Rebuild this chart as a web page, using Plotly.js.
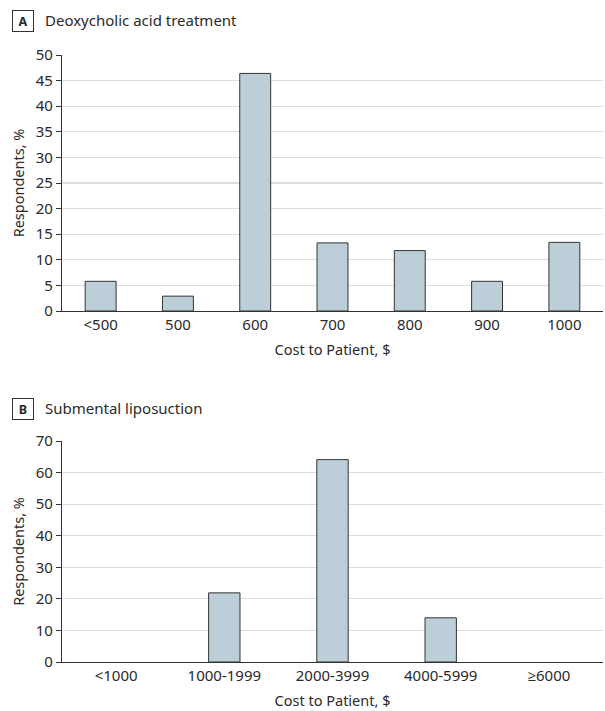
<!DOCTYPE html>
<html>
<head>
<meta charset="utf-8">
<script src="https://cdn.plot.ly/plotly-3.0.1.min.js"></script>
<style>html,body{margin:0;padding:0;background:#fff;}#chart{width:605px;height:711px;}</style>
</head>
<body>
<div id="chart"></div>
<script>
const catsA = ["<500", "500", "600", "700", "800", "900", "1000"];
const valsA = [5.8, 2.9, 46.4, 13.3, 11.8, 5.8, 13.4];
const catsB = ["<1000", "1000-1999", "2000-3999", "4000-5999", "≥6000"];
const valsB = [0, 21.9, 64.1, 14.0, 0];
const ticksA = [0, 5, 10, 15, 20, 25, 30, 35, 40, 45, 50];
const ticksB = [0, 10, 20, 30, 40, 50, 60, 70];

const FONT = "Noto Sans, Open Sans, sans-serif";
const TXT = "#2a2a2a";
const barFill = "#bccfd8";
const barLine = "#333333";

const traces = [
  {type: "bar", x: catsA, y: valsA, xaxis: "x", yaxis: "y", width: 0.4,
   marker: {color: barFill, line: {color: barLine, width: valsA.map(v => v > 0 ? 1 : 0)}}, hoverinfo: "none"},
  {type: "bar", x: catsB, y: valsB, xaxis: "x2", yaxis: "y2", width: 0.29,
   marker: {color: barFill, line: {color: barLine, width: valsB.map(v => v > 0 ? 1 : 0)}}, hoverinfo: "none"}
];

function xax(cats, anchor, standoff) {
  return {
    anchor: anchor, domain: [0, 1], type: "category",
    categoryorder: "array", categoryarray: cats,
    showline: true, linecolor: "#333", linewidth: 1.2,
    ticks: "", showgrid: false, automargin: false,
    tickfont: {family: FONT, size: 15, color: TXT},
    title: {text: "Cost to Patient, $", font: {family: FONT, size: 14.5, color: TXT}, standoff: standoff}
  };
}
function yax(rng, tv, dom, anchor) {
  return {
    anchor: anchor, domain: dom, range: rng, tickvals: tv, fixedrange: true,
    showline: true, linecolor: "#333", linewidth: 1.2,
    ticks: "outside", ticklen: 5, tickcolor: "#333", tickwidth: 1,
    showgrid: true, gridcolor: "#dedede", gridwidth: 1.2, zeroline: false,
    automargin: false,
    tickfont: {family: FONT, size: 15, color: TXT},
    title: {text: "Respondents, %", font: {family: FONT, size: 14.5, color: TXT}, standoff: 7}
  };
}

const H = 711;
const W = 541;
const layout = {
  width: 605, height: 711,
  margin: {l: 62, r: 2, t: 0, b: 0},
  paper_bgcolor: "#fff", plot_bgcolor: "#fff",
  showlegend: false,
  font: {family: FONT, color: TXT},
  xaxis: xax(catsA, "y", 11),
  yaxis: yax([0, 50], ticksA, [1 - 311 / H, 1 - 55 / H], "x"),
  xaxis2: xax(catsB, "y2", 11),
  yaxis2: yax([0, 70], ticksB, [1 - 662 / H, 1 - 441 / H], "x2"),
  annotations: [
    {xref: "paper", yref: "paper", x: (23 - 62) / W, y: 1 - 20.5 / H, xanchor: "center", yanchor: "middle",
     text: "<b>A</b>", showarrow: false, font: {family: FONT, size: 12.5, color: TXT},
     bordercolor: "#333", borderwidth: 1, borderpad: 2, width: 16, height: 16},
    {xref: "paper", yref: "paper", x: (43 - 62) / W, y: 1 - 20 / H, xanchor: "left", yanchor: "middle",
     text: "Deoxycholic acid treatment", showarrow: false, font: {family: FONT, size: 15, color: TXT}},
    {xref: "paper", yref: "paper", x: (23 - 62) / W, y: 1 - 408.5 / H, xanchor: "center", yanchor: "middle",
     text: "<b>B</b>", showarrow: false, font: {family: FONT, size: 12.5, color: TXT},
     bordercolor: "#333", borderwidth: 1, borderpad: 2, width: 16, height: 16},
    {xref: "paper", yref: "paper", x: (43 - 62) / W, y: 1 - 408 / H, xanchor: "left", yanchor: "middle",
     text: "Submental liposuction", showarrow: false, font: {family: FONT, size: 15, color: TXT}}
  ]
};

Plotly.newPlot("chart", traces, layout, {displayModeBar: false, staticPlot: true});
</script>
</body>
</html>
